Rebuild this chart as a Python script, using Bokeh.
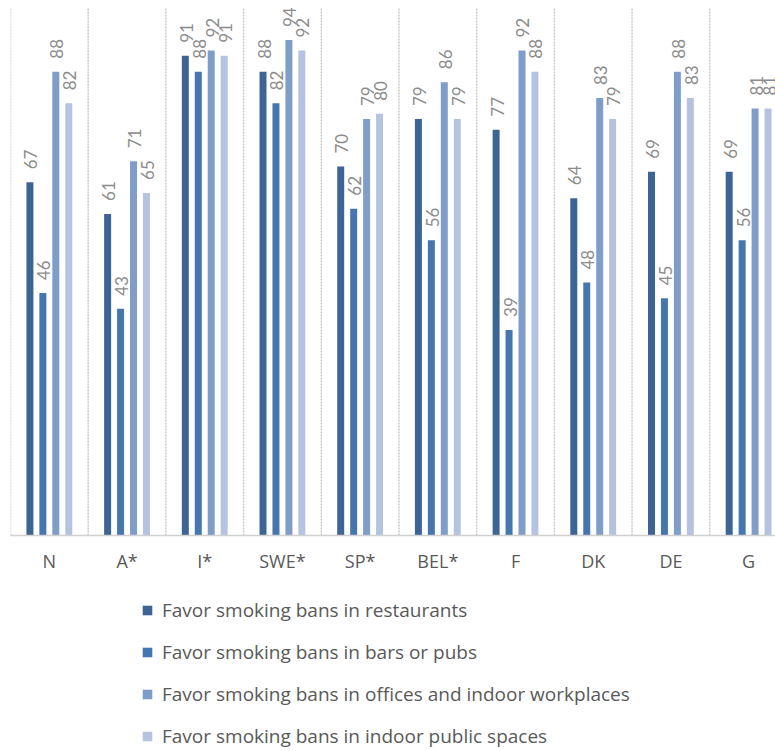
import math

from bokeh.core.properties import value
from bokeh.embed import file_html
from bokeh.layouts import column
from bokeh.models import (ColumnDataSource, FixedTicker, Legend, LegendItem,
                          Range1d)
from bokeh.plotting import figure
from bokeh.resources import INLINE
from bokeh.transform import dodge

# Survey results: share (%) in favour of smoking bans, by country
countries = ["N", "A*", "I*", "SWE*", "SP*", "BEL*", "F", "DK", "DE", "G"]
restaurants = [67, 61, 91, 88, 70, 79, 77, 64, 69, 69]
bars_pubs = [46, 43, 88, 82, 62, 56, 39, 48, 45, 56]
workplaces = [88, 71, 92, 94, 79, 86, 92, 83, 88, 81]
public_spaces = [82, 65, 91, 92, 80, 79, 88, 79, 83, 81]

series_names = [
    "Favor smoking bans in restaurants",
    "Favor smoking bans in bars or pubs",
    "Favor smoking bans in offices and indoor workplaces",
    "Favor smoking bans in indoor public spaces",
]
colors = ["#3c6595", "#4676b0", "#7f9dc9", "#b4c4e0"]
offsets = [-0.25, -0.0833, 0.0833, 0.25]

LABEL_FONT = "Lato"
TEXT_FONT = "Open Sans"
pos = list(range(len(countries)))

src = ColumnDataSource(dict(
    x=pos, country=countries,
    s0=restaurants, s1=bars_pubs, s2=workplaces, s3=public_spaces,
    t0=[str(v) for v in restaurants], t1=[str(v) for v in bars_pubs],
    t2=[str(v) for v in workplaces], t3=[str(v) for v in public_spaces],
))

# ---- main chart -----------------------------------------------------------
p = figure(width=775, height=575, output_backend="svg", toolbar_location=None,
           x_range=Range1d(-0.5, 9.346), y_range=Range1d(0, 101.5),
           min_border_left=10, min_border_right=0, min_border_top=0,
           min_border_bottom=40)
p.outline_line_color = None
p.ygrid.visible = False
p.xgrid.visible = False
p.yaxis.visible = False

# dotted separators between the country groups
sep = [i - 0.5 for i in pos] + [len(countries) - 0.5]
p.segment(x0=sep, x1=sep, y0=[0] * len(sep), y1=[100] * len(sep),
          line_color="#c9c9c9", line_width=1.5, line_dash="2 1")

for k in range(4):
    p.vbar(x=dodge("x", offsets[k], range=p.x_range), top=f"s{k}",
           width=0.09, source=src, fill_color=colors[k], line_color=None)
    p.text(x=dodge("x", offsets[k], range=p.x_range), y=f"s{k}", text=f"t{k}",
           source=src, angle=math.pi / 2, text_align="left",
           text_baseline="middle", y_offset=-13, x_offset=1,
           text_font=value(LABEL_FONT), text_font_size="17px",
           text_color="#8c8c8c")

ax = p.xaxis[0]
ax.ticker = FixedTicker(ticks=pos)
ax.major_label_overrides = {i: c for i, c in zip(pos, countries)}
ax.major_tick_in = 0
ax.major_tick_out = 0
ax.minor_tick_in = 0
ax.minor_tick_out = 0
ax.axis_line_color = "#d0d0d0"
ax.axis_line_width = 1.5
ax.major_label_standoff = 13
ax.major_label_text_font = TEXT_FONT
ax.major_label_text_font_size = "18px"
ax.major_label_text_color = "#595959"

# ---- legend strip ---------------------------------------------------------
lg = figure(width=775, height=176, output_backend="svg", toolbar_location=None,
            x_range=Range1d(-0.5, 9.346), y_range=Range1d(1000, 1001),
            min_border=0)
lg.outline_line_color = None
lg.axis.visible = False
lg.grid.visible = False

items = []
for k in range(4):
    r = lg.vbar(x=dodge("x", offsets[k], range=lg.x_range), top=f"s{k}",
                width=0.09, source=src, fill_color=colors[k], line_color=None)
    items.append(LegendItem(label=series_names[k], renderers=[r]))

legend = Legend(items=items, location=(131, 2), orientation="vertical",
                padding=0, margin=0, spacing=16, label_height=26,
                glyph_height=12, glyph_width=12, label_standoff=9,
                border_line_color=None, background_fill_alpha=0,
                label_text_font=TEXT_FONT, label_text_font_size="19px",
                label_text_color="#595959")
lg.add_layout(legend, "center")

layout = column(p, lg, spacing=0)
open("out.html", "w").write(file_html(layout, INLINE))
